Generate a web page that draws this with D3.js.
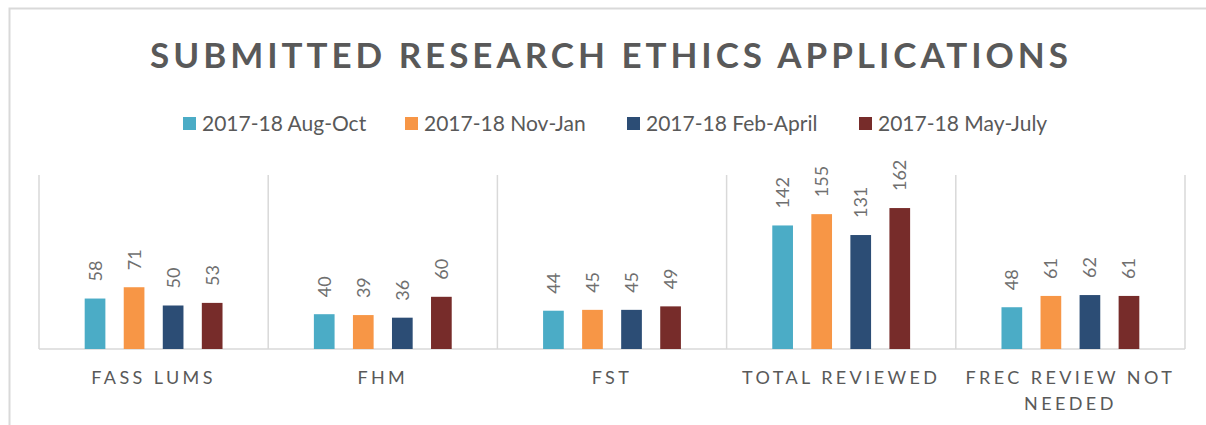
<!DOCTYPE html>
<html>
  <head>
    <meta charset="utf-8">
    <title>Submitted research ethics applications</title>
    <script src="https://cdn.jsdelivr.net/npm/d3@7/dist/d3.min.js"></script>
	<style>

body {
  margin: 0;
  background: #fff;
  font-family: Lato, "Open Sans", sans-serif;
}

.frame {
  fill: none;
  stroke: #d9d9d9;
  stroke-width: 2px;
}

.grid line {
  stroke: #d9d9d9;
  stroke-width: 1.5px;
}

.title {
  font-size: 35px;
  font-weight: bold;
  fill: #595959;
}

.legend text {
  font-size: 21px;
  fill: #595959;
}

.catLabel {
  font-size: 18px;
  fill: #595959;
  letter-spacing: 3.4px;
}

.valLabel {
  font-size: 18px;
  fill: #6f6f6f;
}

	</style>
  </head>
  <body>
<script>

var categories = ["FASS LUMS", "FHM", "FST", "TOTAL REVIEWED", "FREC REVIEW NOT NEEDED"];
var seriesNames = ["2017-18 Aug-Oct", "2017-18 Nov-Jan", "2017-18 Feb-April", "2017-18 May-July"];
var augOct   = [58, 40, 44, 142, 48];
var novJan   = [71, 39, 45, 155, 61];
var febApril = [50, 36, 45, 131, 62];
var mayJuly  = [53, 60, 49, 162, 61];
var colors = ["#4bacc6", "#f79646", "#2c4d75", "#772c2a"];

var allValues = [augOct, novJan, febApril, mayJuly];

var width = 1206,
    height = 425;

var svg = d3.select("body").append("svg")
    .attr("width", width)
    .attr("height", height);

// outer chart border (only top and left visible)
svg.append("path")
    .attr("class", "frame")
    .attr("d", "M9.5,440 L9.5,8.5 L1220,8.5");

svg.append("text")
    .attr("class", "title")
    .attr("x", 609)
    .attr("y", 68)
    .attr("text-anchor", "middle")
    .attr("textLength", 918)
    .attr("lengthAdjust", "spacing")
    .text("SUBMITTED RESEARCH ETHICS APPLICATIONS");

// legend
var legendX = [183, 405, 627, 859];
var legend = svg.append("g").attr("class", "legend");
seriesNames.forEach(function(name, i) {
  legend.append("rect")
      .attr("x", legendX[i])
      .attr("y", 117)
      .attr("width", 13)
      .attr("height", 13)
      .attr("fill", colors[i]);
  legend.append("text")
      .attr("x", legendX[i] + 19)
      .attr("y", 131)
      .text(name);
});

var x0 = d3.scaleBand()
    .domain(categories)
    .range([39, 1185]);

var x1 = d3.scaleBand()
    .domain(seriesNames)
    .range([0, x0.bandwidth()])
    .paddingInner(0.47)
    .paddingOuter(1.17);

var y = d3.scaleLinear()
    .domain([0, 200])
    .range([349, 175]);

// separators between categories and base line
var grid = svg.append("g").attr("class", "grid");
var bounds = categories.map(function(c) { return x0(c); }).concat([x0.range()[1]]);
grid.selectAll(".sep")
    .data(bounds)
  .enter().append("line")
    .attr("x1", function(d) { return d; })
    .attr("x2", function(d) { return d; })
    .attr("y1", y(200))
    .attr("y2", y(0));
grid.append("line")
    .attr("x1", x0.range()[0])
    .attr("x2", x0.range()[1])
    .attr("y1", y(0))
    .attr("y2", y(0));

var data = [];
categories.forEach(function(c, ci) {
  seriesNames.forEach(function(s, si) {
    data.push({cat: c, series: s, idx: si, value: allValues[si][ci]});
  });
});

svg.selectAll(".bar")
    .data(data)
  .enter().append("rect")
    .attr("class", "bar")
    .attr("x", function(d) { return x0(d.cat) + x1(d.series); })
    .attr("width", x1.bandwidth())
    .attr("y", function(d) { return y(d.value); })
    .attr("height", function(d) { return y(0) - y(d.value); })
    .attr("fill", function(d) { return colors[d.idx]; });

svg.selectAll(".valLabel")
    .data(data)
  .enter().append("text")
    .attr("class", "valLabel")
    .attr("transform", function(d) {
      var cx = x0(d.cat) + x1(d.series) + x1.bandwidth() / 2;
      return "translate(" + cx + "," + (y(d.value) - 17) + ") rotate(-90)";
    })
    .attr("dy", "0.36em")
    .text(function(d) { return d.value; });

// category labels, wrapped like excel does
var cats = svg.selectAll(".catLabel")
    .data(categories)
  .enter().append("text")
    .attr("class", "catLabel")
    .attr("text-anchor", "middle")
    .attr("y", 384)
    .text(function(d) { return d; });

cats.each(function(d) {
  var text = d3.select(this),
      words = d.split(" "),
      cx = x0(d) + x0.bandwidth() / 2,
      maxW = x0.bandwidth() - 10,
      line = [];
  text.text(null);
  var tspan = text.append("tspan").attr("x", cx).attr("dy", 0);
  words.forEach(function(w) {
    line.push(w);
    tspan.text(line.join(" "));
    if (tspan.node().getComputedTextLength() > maxW && line.length > 1) {
      line.pop();
      tspan.text(line.join(" "));
      line = [w];
      tspan = text.append("tspan").attr("x", cx).attr("dy", 26).text(w);
    }
  });
});

</script>
  </body>
</html>
